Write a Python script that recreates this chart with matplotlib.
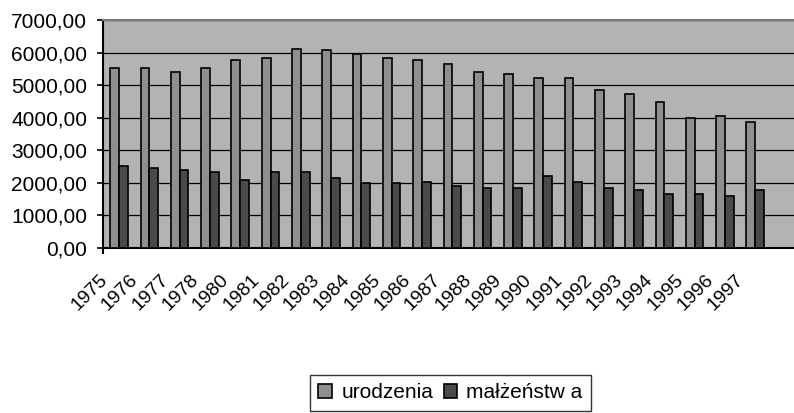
import numpy as np
import matplotlib
matplotlib.use("Agg")
import matplotlib.pyplot as plt
from matplotlib.transforms import ScaledTranslation
from matplotlib.ticker import FuncFormatter

plt.rcParams['font.family'] = ['Liberation Sans', 'DejaVu Sans']

years = ['1975', '1976', '1977', '1978', '1980', '1981', '1982', '1983',
         '1984', '1985', '1986', '1987', '1988', '1989', '1990', '1991',
         '1992', '1993', '1994', '1995', '1996', '1997']
urodzenia = [5520, 5520, 5400, 5520, 5760, 5820, 6120, 6070, 5960, 5820, 5760,
             5640, 5400, 5330, 5210, 5210, 4840, 4720, 4470, 3990, 4050, 3870]
malzenstwa = [2530, 2470, 2400, 2330, 2090, 2330, 2330, 2140, 1990, 1990, 2030,
              1900, 1840, 1840, 2210, 2030, 1840, 1780, 1660, 1660, 1600, 1780]

W, H = 794, 413
fig = plt.figure(figsize=(W / 100, H / 100), dpi=100)
ax = fig.add_axes([103 / W, 1 - 248 / H, 1 - 103 / W, (248 - 20) / H])
ax.set_facecolor('#b3b3b3')

x = np.arange(len(years))
bw = 0.29
ax.bar(x - bw / 2, urodzenia, bw, color='#8f8f8f', edgecolor='black',
       linewidth=1.2, label='urodzenia', zorder=3)
ax.bar(x + bw / 2, malzenstwa, bw, color='#4a4a4a', edgecolor='black',
       linewidth=1.2, label='małżeństw a', zorder=3)

ax.set_xlim(-0.53, 22.28)
ax.set_ylim(0, 7000)
ax.set_yticks(np.arange(0, 7001, 1000))
ax.yaxis.set_major_formatter(FuncFormatter(lambda v, p: f"{v:.2f}".replace('.', ',')))
ax.grid(axis='y', color='black', linewidth=0.9, zorder=1)
ax.set_axisbelow(True)

ax.spines['right'].set_visible(False)
ax.spines['top'].set_color('#7a7a7a')
ax.spines['top'].set_linewidth(1.5)
ax.spines['left'].set_linewidth(1.5)
ax.spines['bottom'].set_linewidth(1.5)

ax.tick_params(axis='y', direction='out', length=4.5, width=1.2,
               labelsize=15, pad=7)
ax.set_xticks(x)
ax.set_xticklabels(years, rotation=45, ha='right', va='center',
                   rotation_mode='anchor', fontsize=14)
ax.tick_params(axis='x', length=0, pad=0)
ax.set_xticks([-0.53], minor=True)
ax.tick_params(axis='x', which='minor', direction='out', length=4.5, width=1.5)

# Excel puts the rotated year labels a bit left of and below each group
off = ScaledTranslation(-14 / 100, -29 / 100, fig.dpi_scale_trans)
for lab in ax.get_xticklabels():
    lab.set_transform(lab.get_transform() + off)

leg = fig.legend(loc='upper left', bbox_to_anchor=(310 / W, 1 - 375 / H),
                 ncol=2, fontsize=15, frameon=True, fancybox=False,
                 edgecolor='black', handlelength=0.65, handleheight=0.65,
                 handletextpad=0.45, columnspacing=0.5, borderpad=0.4,
                 borderaxespad=0)
leg.get_frame().set_linewidth(1.0)

fig.savefig('out.png', dpi=100)
